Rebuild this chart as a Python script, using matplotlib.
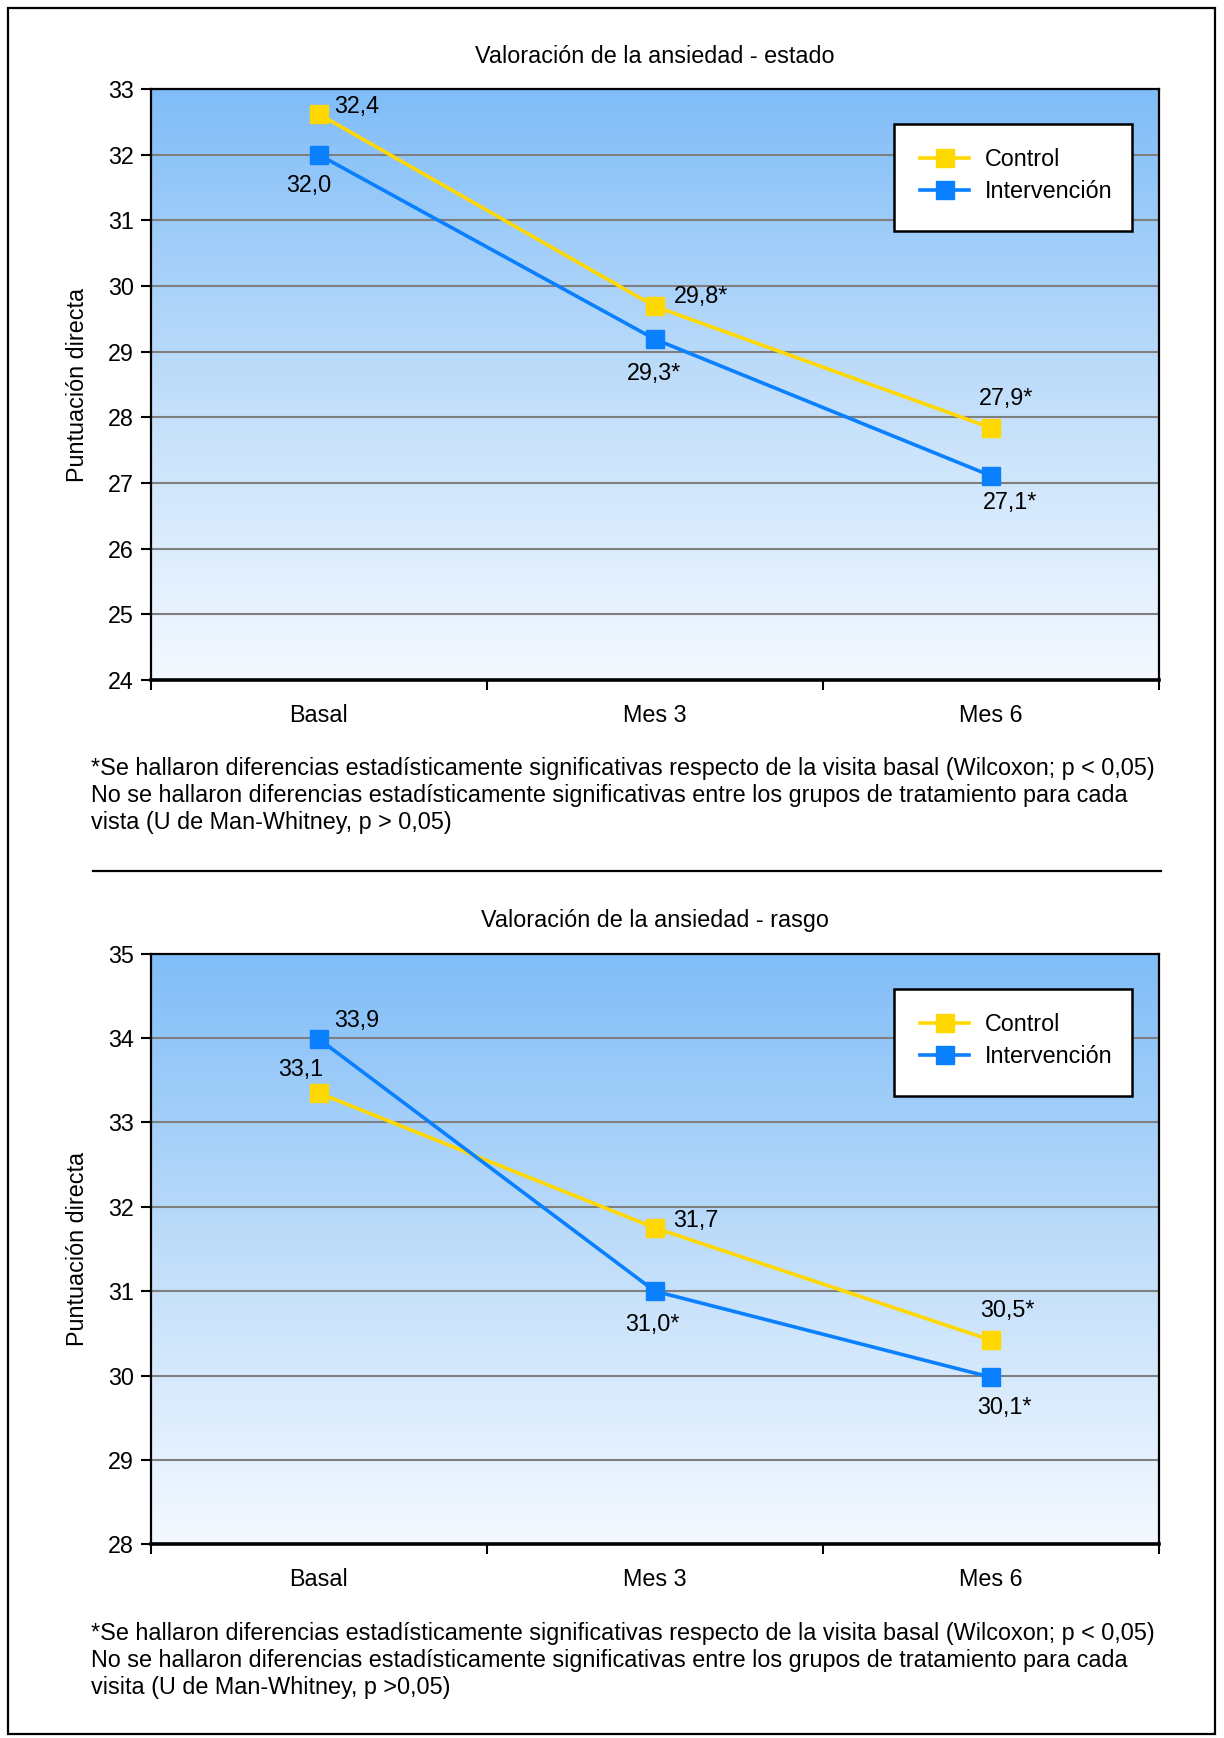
import matplotlib
matplotlib.use("Agg")
import matplotlib.pyplot as plt
import numpy as np
from matplotlib.patches import Rectangle
from matplotlib.lines import Line2D
from matplotlib.colors import LinearSegmentedColormap

plt.rcParams['font.family'] = ['Liberation Sans', 'DejaVu Sans']

# ---------------- data ----------------
categories = ["Basal", "Mes 3", "Mes 6"]
series_names = ["Control", "Intervención"]

estado_control = [32.62, 29.69, 27.84]
estado_interv = [32.0, 29.19, 27.11]
estado_control_labels = ["32,4", "29,8*", "27,9*"]
estado_interv_labels = ["32,0", "29,3*", "27,1*"]

rasgo_control = [33.35, 31.75, 30.42]
rasgo_interv = [33.99, 31.0, 29.98]
rasgo_control_labels = ["33,1", "31,7", "30,5*"]
rasgo_interv_labels = ["33,9", "31,0*", "30,1*"]

title_estado = "Valoración de la ansiedad - estado"
title_rasgo = "Valoración de la ansiedad - rasgo"
ylabel = "Puntuación directa"

note_estado = ("*Se hallaron diferencias estadísticamente significativas respecto de la visita basal (Wilcoxon; p < 0,05)\n"
               "No se hallaron diferencias estadísticamente significativas entre los grupos de tratamiento para cada\n"
               "vista (U de Man-Whitney, p > 0,05)")
note_rasgo = ("*Se hallaron diferencias estadísticamente significativas respecto de la visita basal (Wilcoxon; p < 0,05)\n"
              "No se hallaron diferencias estadísticamente significativas entre los grupos de tratamiento para cada\n"
              "visita (U de Man-Whitney, p >0,05)")

YELLOW = "#FFD800"
BLUE = "#0A80FF"
W, H = 1224, 1738
FS = 16.8

fig = plt.figure(figsize=(W / 100, H / 100), dpi=100)

# outer frame
fig.add_artist(Rectangle((8 / W, 1 - 1734 / H), (1215 - 8) / W, (1734 - 8) / H,
                         transform=fig.transFigure, fill=False, edgecolor="black", lw=1.6))
# separator
fig.add_artist(Line2D([93 / W, 1161 / W], [1 - 871 / H, 1 - 871 / H],
                      transform=fig.transFigure, color="black", lw=1.6))

cmap = LinearSegmentedColormap.from_list("bg", ["#F4F9FF", "#BFDDFA", "#80BDF8"])


def panel(rect_px, ylim, ctrl, intv, ctrl_lab, intv_lab, ctrl_off, intv_off, title, note, note_y):
    l, t, r, b = rect_px
    ax = fig.add_axes([l / W, 1 - b / H, (r - l) / W, (b - t) / H])
    grad = np.linspace(0, 1, 256).reshape(-1, 1)
    ax.imshow(grad, extent=[0, 1, 0, 1], transform=ax.transAxes, aspect="auto",
              cmap=cmap, origin="lower", zorder=0, interpolation="bicubic")
    x = np.arange(len(categories))
    for yv in range(ylim[0] + 1, ylim[1]):
        ax.axhline(yv, color="#7F7F7F", lw=1.5, zorder=1)
    ax.plot(x, ctrl, color=YELLOW, lw=2.6, marker="s", ms=13, mec=YELLOW, zorder=3, label=series_names[0])
    ax.plot(x, intv, color=BLUE, lw=2.6, marker="s", ms=13, mec=BLUE, zorder=4, label=series_names[1])
    for xi, yi, s, (dx, dy, ha) in zip(x, ctrl, ctrl_lab, ctrl_off):
        ax.annotate(s, (xi, yi), xytext=(dx, dy), textcoords="offset pixels",
                    ha=ha, va="center", fontsize=FS, zorder=5)
    for xi, yi, s, (dx, dy, ha) in zip(x, intv, intv_lab, intv_off):
        ax.annotate(s, (xi, yi), xytext=(dx, dy), textcoords="offset pixels",
                    ha=ha, va="center", fontsize=FS, zorder=5)
    ax.set_xlim(-0.5, 2.5)
    ax.set_ylim(*ylim)
    ax.set_yticks(range(ylim[0], ylim[1] + 1))
    ax.set_xticks([-0.5, 0.5, 1.5, 2.5])
    ax.set_xticklabels([])
    ax.set_xticks(x, minor=True)
    ax.set_xticklabels(categories, minor=True, fontsize=FS)
    ax.tick_params(axis="x", which="minor", length=0, pad=17)
    ax.tick_params(axis="x", which="major", length=7, width=1.5, direction="out")
    ax.tick_params(axis="y", length=7, width=1.5, direction="out", labelsize=FS, pad=5)
    for sp in ax.spines.values():
        sp.set_linewidth(1.6)
        sp.set_color("black")
    ax.spines["bottom"].set_linewidth(2.6)
    ax.set_ylabel(ylabel, fontsize=FS, labelpad=14)
    ax.set_title(title, fontsize=FS, pad=19)
    # legend box
    lx0, ly0, lx1, ly1 = 894, t + 35, 1132, t + 142
    ax.add_artist(Rectangle(((lx0 - l) / (r - l), 1 - (ly1 - t) / (b - t)),
                            (lx1 - lx0) / (r - l), (ly1 - ly0) / (b - t),
                            transform=ax.transAxes, facecolor="white", edgecolor="black",
                            lw=1.8, zorder=6))
    leg = ax.legend(loc="upper left",
                    bbox_to_anchor=((920 - l) / (r - l), 1 - 59 / (b - t)),
                    frameon=False, fontsize=FS, handlelength=2.1, labelspacing=0.40,
                    handletextpad=0.7, borderpad=0, borderaxespad=0)
    leg.set_zorder(7)
    fig.text(91 / W, 1 - note_y / H, note, fontsize=FS, va="top", ha="left", linespacing=1.21)
    return ax


panel((150.7, 89, 1159, 680), (24, 33), estado_control, estado_interv,
      estado_control_labels, estado_interv_labels,
      [(15, 7, "left"), (19, 10, "left"), (15, 29, "center")],
      [(-10, -31, "center"), (-1, -34, "center"), (19, -27, "center")],
      title_estado, note_estado, 757)

panel((150.7, 953.7, 1159, 1544.3), (28, 35), rasgo_control, rasgo_interv,
      rasgo_control_labels, rasgo_interv_labels,
      [(-18, 23, "center"), (18, 7, "left"), (16, 30, "center")],
      [(15, 18, "left"), (-2, -33, "center"), (13, -30, "center")],
      title_rasgo, note_rasgo, 1622)

fig.savefig("out.png", dpi=100, facecolor="white")
